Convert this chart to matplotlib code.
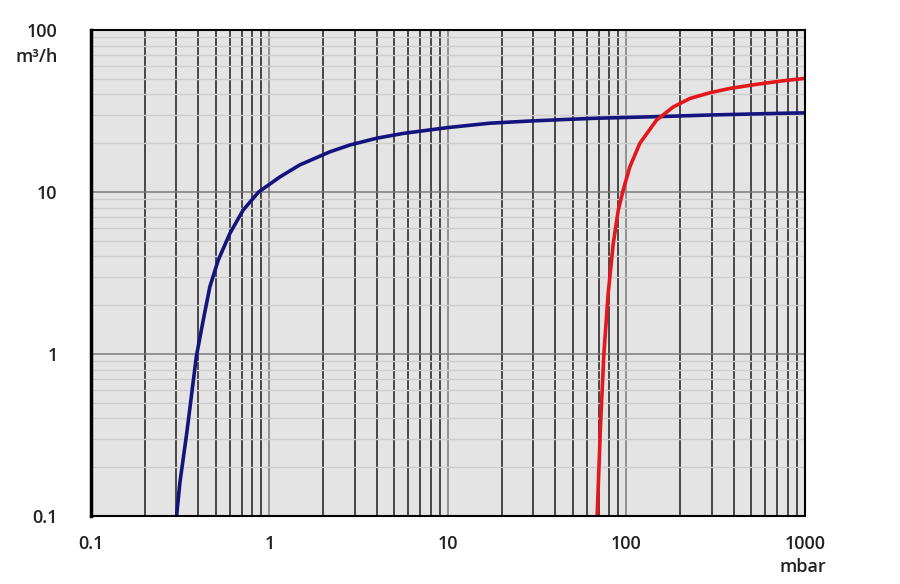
import numpy as np
import matplotlib.pyplot as plt
from matplotlib.ticker import NullFormatter

# Curva azul (mbar, m3/h)
blue_p = [0.302, 0.315, 0.345, 0.39, 0.426, 0.464, 0.517, 0.601, 0.713, 0.87,
          1.146, 1.48, 2.18, 2.82, 4.0, 5.62, 10, 17.2, 30, 65.2, 150, 300,
          724, 1000]
blue_q = [0.1, 0.16, 0.33, 0.97, 1.62, 2.6, 3.8, 5.56, 7.74, 10.0,
          12.4, 14.7, 17.7, 19.5, 21.5, 23.0, 25.0, 26.6, 27.5, 28.5, 29.2, 29.9,
          30.6, 30.8]

# Curva roja (mbar, m3/h)
red_p = [68.6, 71.6, 74.8, 79.1, 84.4, 90, 96, 104.6, 119, 147.6, 183, 227,
         294, 380, 536, 755, 1000]
red_q = [0.1, 0.36, 1.0, 2.37, 4.8, 7.7, 10.3, 14.3, 20.0, 27.8, 33.5, 37.8,
         41.0, 43.6, 46.2, 48.6, 50.3]

x_ticks = [0.1, 1, 10, 100, 1000]
x_labels = ['0.1', '1', '10', '100', '1000']
y_ticks = [0.1, 1, 10, 100]
y_labels = ['0.1', '1', '10', '100']

plt.rcParams['font.family'] = ['Open Sans', 'DejaVu Sans']

fig = plt.figure(figsize=(9, 5.84), dpi=100)
ax = fig.add_axes([0.101, 0.1164, 0.7933, 0.8322])
ax.set_xscale('log')
ax.set_yscale('log')
ax.set_xlim(0.1, 1000)
ax.set_ylim(0.1, 100)
ax.set_facecolor('#e4e4e4')

x_minor = [m * 10.0**e for e in range(-1, 3) for m in range(2, 10)]
y_minor = [m * 10.0**e for e in range(-1, 2) for m in range(2, 10)]
ax.set_xticks(x_ticks, labels=x_labels)
ax.set_yticks(y_ticks, labels=y_labels)
ax.set_xticks(x_minor, minor=True)
ax.set_yticks(y_minor, minor=True)
ax.xaxis.set_minor_formatter(NullFormatter())
ax.yaxis.set_minor_formatter(NullFormatter())

# rejilla
ax.grid(which='major', axis='x', color='#8a8a8a', lw=1.3)
ax.grid(which='minor', axis='x', color='#3a3a3a', lw=1.3)
ax.grid(which='major', axis='y', color='#7a7a7a', lw=1.1)
ax.grid(which='minor', axis='y', color='#cdcdcd', lw=1.0)
for t in ax.yaxis.get_minor_ticks():
    if t.get_loc() > 10:
        t.gridline.set_color('#6e6e6e')
ax.set_axisbelow(True)

ax.plot(blue_p, blue_q, color='#15137d', lw=2.6,
        solid_capstyle='round', solid_joinstyle='round')
ax.plot(red_p, red_q, color='#e3171c', lw=2.6,
        solid_capstyle='round', solid_joinstyle='round')

ax.tick_params(which='both', length=0)
ax.tick_params(axis='x', pad=14, labelsize=13, labelcolor='#222222')
ax.tick_params(axis='y', pad=24, labelsize=13, labelcolor='#222222')
for lab in ax.get_xticklabels() + ax.get_yticklabels():
    lab.set_fontweight('semibold')

for s in ax.spines.values():
    s.set_color('black')
    s.set_linewidth(1.5)
ax.spines['left'].set_linewidth(2.5)

fig.text(58 / 900, 1 - 57 / 584, 'm³/h', ha='right', va='center',
         fontsize=13, fontweight='semibold', color='#222222')
fig.text(803 / 900, 1 - 567 / 584, 'mbar', ha='center', va='center',
         fontsize=13, fontweight='semibold', color='#222222')

fig.savefig('out.png', dpi=100, facecolor='white')
